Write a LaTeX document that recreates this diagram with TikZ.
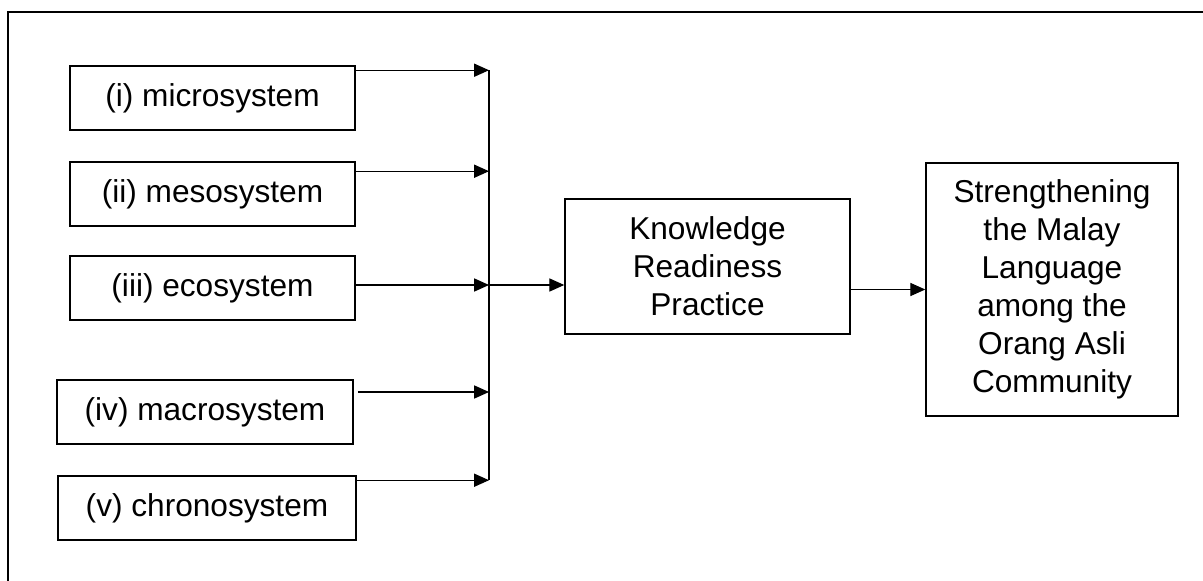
\documentclass[tikz,border=0pt]{standalone}
\usepackage{fontspec}
\setmainfont{Liberation Sans}
\usetikzlibrary{positioning, arrows.meta, calc}
\tikzset{
  system/.style={rectangle, minimum height=1.28cm, text centered, draw=black, line width=0.9pt, inner sep=0pt},
  process/.style={rectangle, text centered, align=center, draw=black, line width=0.9pt, inner sep=0pt},
  arrow/.style={line width=0.6pt, -{Triangle[length=8.5pt, width=7.5pt]}},
  frame/.style={line width=1.1pt}
}

\begin{document}
\begin{tikzpicture}[x=0.02cm, y=-0.02cm, every node/.style={font=\fontsize{18}{21.6}\selectfont}]
    \useasboundingbox (0,0) rectangle (1203,581);
    \draw [frame] (1203,12) -- (8,12) -- (8,581);

    \node (micro) [system, minimum width=5.7cm] at (212.5,98) {(i) microsystem};
    \node (meso) [system, minimum width=5.7cm] at (212.5,194) {(ii) mesosystem};
    \node (eco) [system, minimum width=5.7cm] at (212.5,288) {(iii) ecosystem};
    \node (macro) [system, minimum width=5.92cm] at (205,412) {(iv) macrosystem};
    \node (chrono) [system, minimum width=5.96cm] at (207,508) {(v) chronosystem};

    \node (knowledge) [process, minimum width=5.7cm, minimum height=2.7cm] at (707.5,266.5)
    {Knowledge\\ Readiness\\ Practice};

    \node (strength) [process, minimum width=5.04cm, minimum height=5.06cm] at (1052,289.5)
    {Strengthening\\ the Malay\\ Language\\ among the\\ Orang Asli\\ Community};

    % Arrow starts and bus
    \coordinate (s1) at ($(micro.north east)+(0,5)$);
    \coordinate (s2) at ($(meso.north east)+(0,10)$);
    \coordinate (s3) at ($(eco.east)+(0,-3)$);
    \coordinate (s4) at ($(macro.east)+(4,-20)$);
    \coordinate (s5) at ($(chrono.north east)+(0,5)$);
    \coordinate (bus) at (489,0);
    \draw [line width=0.6pt] (s1 -| bus) -- (s5 -| bus);

    % Arrows
    \foreach \s in {s1,s2,s3,s4,s5}
      \draw [arrow] (\s) -- (\s -| bus);
    \draw [arrow] (s3 -| bus) -- (s3 -| knowledge.west);
    \draw [arrow] (knowledge.east |- strength.west) -- (strength.west);

\end{tikzpicture}
\end{document}
